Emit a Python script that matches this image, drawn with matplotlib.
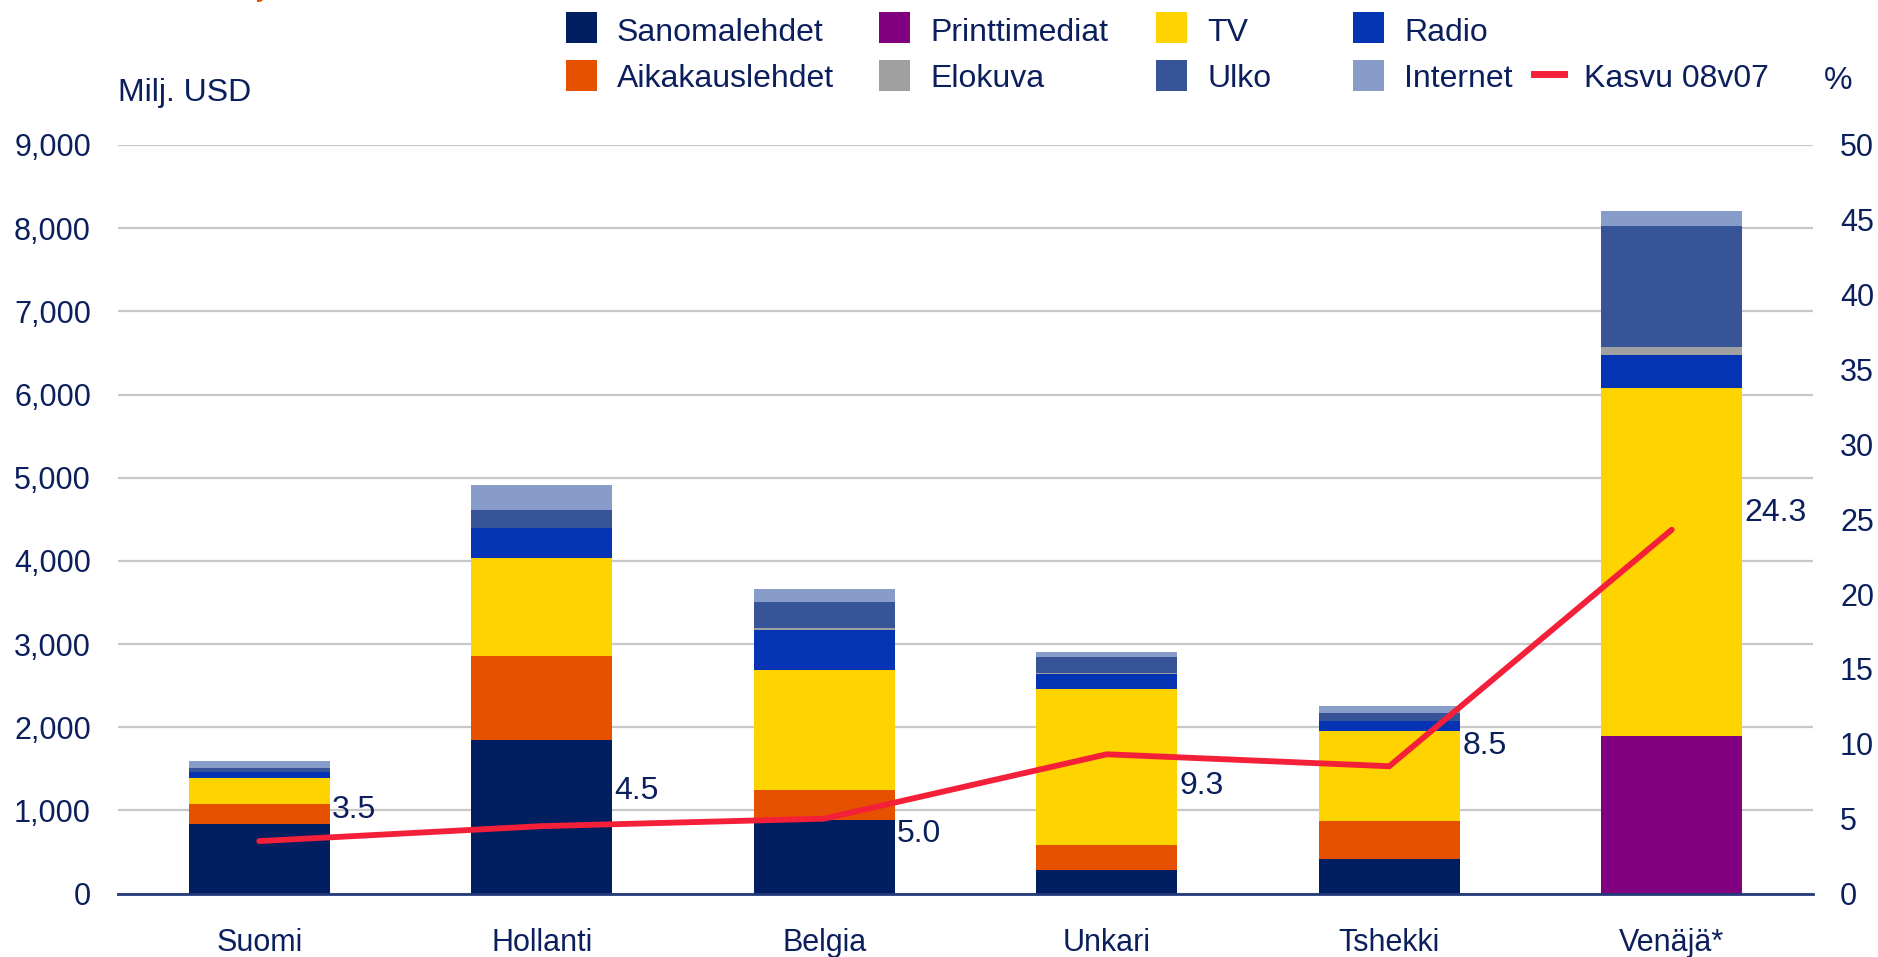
import matplotlib
matplotlib.use("Agg")
import matplotlib.pyplot as plt
from matplotlib.patches import Rectangle
from matplotlib.lines import Line2D
import numpy as np

plt.rcParams['font.family'] = ['Liberation Sans', 'DejaVu Sans']

# ---- data ----
categories = ['Suomi', 'Hollanti', 'Belgia', 'Unkari', 'Tshekki', 'Venäjä*']
sanomalehdet   = [835, 1850, 883, 280, 420, 0]
aikakauslehdet = [242, 1008, 367, 309, 457, 0]
printtimediat  = [0, 0, 0, 0, 0, 1888]
tv             = [314, 1179, 1440, 1874, 1081, 4185]
radio          = [73, 361, 481, 172, 121, 407]
elokuva        = [0, 0, 24, 16, 0, 95]
ulko           = [48, 217, 313, 196, 96, 1455]
internet       = [77, 301, 157, 61, 84, 180]
kasvu          = [3.5, 4.5, 5.0, 9.3, 8.5, 24.3]

left_ticks = list(range(0, 9001, 1000))
right_ticks = list(range(0, 51, 5))

# ---- styles ----
TXT = '#0B1F5C'
colors = {
    'Sanomalehdet': '#001E60',
    'Aikakauslehdet': '#E65100',
    'Printtimediat': '#800080',
    'TV': '#FFD300',
    'Radio': '#0433B3',
    'Elokuva': '#A0A0A0',
    'Ulko': '#375499',
    'Internet': '#889CCA',
}
LINE_C = '#F41F38'
FS = 22
FS2 = 23
label_dy = [2.1, 2.35, -1.05, -2.15, 1.35, 1.15]

W, H = 1878, 957
fig = plt.figure(figsize=(W / 100, H / 100), dpi=100)
ax = fig.add_axes([118 / W, 1 - 893.5 / H, (1813 - 118) / W, (893.5 - 145) / H])

x = np.arange(len(categories))
stack = [('Sanomalehdet', sanomalehdet), ('Aikakauslehdet', aikakauslehdet),
         ('Printtimediat', printtimediat), ('TV', tv), ('Radio', radio),
         ('Elokuva', elokuva), ('Ulko', ulko), ('Internet', internet)]
bottom = np.zeros(len(categories))
for name, vals in stack:
    v = np.array(vals, dtype=float)
    ax.bar(x, v, width=0.5, bottom=bottom, color=colors[name], linewidth=0, zorder=2)
    bottom += v

ax.set_xlim(-0.5, len(categories) - 0.5)
ax.set_ylim(0, 9000)
ax.set_yticks(left_ticks)
ax.set_yticklabels([f'{t:,}' for t in left_ticks])
ax.set_xticks(x)
ax.set_xticklabels(categories)
ax.yaxis.grid(True, color='#C8C8C8', linewidth=1.6, zorder=0)
ax.set_axisbelow(True)
for s in ['top', 'left', 'right']:
    ax.spines[s].set_visible(False)
ax.spines['bottom'].set_color('#22397A')
ax.spines['bottom'].set_linewidth(2)
ax.tick_params(axis='y', length=0, pad=19.5, labelsize=FS, labelcolor=TXT)
ax.tick_params(axis='x', length=0, pad=25, labelsize=FS, labelcolor=TXT)

ax2 = ax.twinx()
ax2.set_ylim(0, 50)
ax2.set_yticks(right_ticks)
for s in ['top', 'left', 'right', 'bottom']:
    ax2.spines[s].set_visible(False)
ax2.tick_params(axis='y', length=0, pad=19.5, labelsize=FS, labelcolor=TXT)
ax2.plot(x, kasvu, color=LINE_C, linewidth=4.2, solid_capstyle='round',
         solid_joinstyle='miter', zorder=5)
for i, v in enumerate(kasvu):
    ax2.text(i + 0.258, v + label_dy[i], f'{v:.1f}', fontsize=FS2, color=TXT,
             ha='left', va='center', zorder=6)

# ---- axis titles ----
fig.text(118 / W, 1 - 101 / H, 'Milj. USD', fontsize=FS2, color=TXT, ha='left', va='baseline')
fig.text(1824 / W, 1 - 89 / H, '%', fontsize=FS2, color=TXT, ha='left', va='baseline')
# fragment of cut-off title
fig.text(256 / W, 1 + 4.5 / H, 'y', fontsize=FS2, color='#E65100', ha='left', va='baseline')

# ---- legend (manual layout) ----
rows = [27.5, 75.5]
text_base = [41, 87]
legend_items = [
    ('Sanomalehdet', 566, 0), ('Aikakauslehdet', 566, 1),
    ('Printtimediat', 879, 0), ('Elokuva', 879, 1),
    ('TV', 1156, 0), ('Ulko', 1156, 1),
    ('Radio', 1353, 0), ('Internet', 1353, 1),
]
for name, mx, r in legend_items:
    cy = rows[r]
    fig.add_artist(Rectangle((mx / W, 1 - (cy + 15.5) / H), 31 / W, 31 / H,
                             transform=fig.transFigure, facecolor=colors[name],
                             edgecolor='none'))
    fig.text((mx + 51) / W, 1 - text_base[r] / H, name, fontsize=FS2, color=TXT,
             ha='left', va='baseline')
cy = rows[1] - 2
fig.add_artist(Line2D([1534 / W, 1564 / W], [1 - cy / H, 1 - cy / H],
                      transform=fig.transFigure, color=LINE_C, linewidth=5))
fig.text(1584 / W, 1 - text_base[1] / H, 'Kasvu 08v07', fontsize=FS2, color=TXT,
         ha='left', va='baseline')

fig.savefig('out.png', dpi=100)
